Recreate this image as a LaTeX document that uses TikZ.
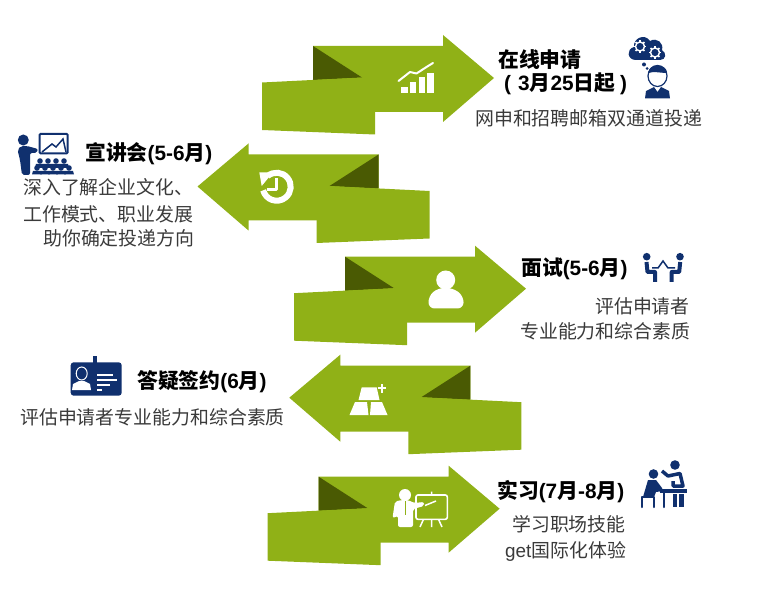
\documentclass[tikz,border=0pt]{standalone}
\usepackage{fontspec}
\setmainfont{Noto Sans CJK SC}
\newfontfamily\arialfont{Liberation Sans}
\usepackage{tikz}
\usetikzlibrary{calc}
\definecolor{ribbongreen}{HTML}{90B117}
\definecolor{ribbondark}{HTML}{4A5A03}
\definecolor{iconnavy}{HTML}{10306E}
\definecolor{bodygray}{HTML}{3A3A3A}
\tikzset{
	titletext/.style={anchor=west,inner sep=0pt,text=black,font=\fontsize{20.8}{24}\selectfont\bfseries},
	bodytext/.style={anchor=west,inner sep=0pt,text=bodygray,font=\fontsize{18.9}{24}\selectfont},
	navyline/.style={draw=iconnavy,line width=2pt,line cap=round,line join=round},
	whiteline/.style={draw=white,line width=2pt,line cap=round,line join=round}
}

\begin{document}
\begin{tikzpicture}[x=1pt,y=-1pt]

\useasboundingbox (0,0) rectangle (768,593);

\foreach \dx/\sx/\dy in {0/1/0,691.5/-1/108.5,32/1/210.7,783.3/-1/319.7,5.6/1/430.7}  {
	\begin{scope}[shift={(\dx,\dy)},xscale=\sx]
	\fill[ribbongreen] (313,46) -- (443,46) -- (443,35) -- (494,78) -- (443,122) -- (443,112) -- (360,112) -- (313,80) -- cycle;
	\fill[ribbondark] (313,46) -- (362,77.5) -- (313,80) -- cycle;
	\fill[ribbongreen] (262,82.5) -- (362,77.5) -- (375,100) -- (375,134.5) -- (262,130) -- cycle;
	\end{scope}
}

\fill[white] (401,87) rectangle (408,93);
\fill[white] (409.5,82) rectangle (416,93);
\fill[white] (418.5,77) rectangle (425,93);
\fill[white] (427,73) rectangle (433.5,93);
\draw[whiteline] (398.5,81) -- (410,72) -- (416.5,73.5) -- (426.5,67) -- (433,63);

\draw[white,line width=6pt] (267.7,176) arc (-130:165:14);
\fill[white] (259.3,172.3) -- (273,172.3) -- (261.7,186) -- cycle;
\draw[white,line width=3pt,line join=round] (276,178) -- (276,190) -- (267,190);

\fill[white] (445.7,280) circle (9.5);
\fill[white,rounded corners=6pt] (428.5,308.5) -- (428.5,296) -- (438,288) -- (453,288) -- (463.5,296) -- (463.5,308.5) -- cycle;

\fill[white] (361.7,387.3) -- (376.7,387.3) -- (379.5,400) -- (358.5,400) -- cycle;
\fill[white] (355,402) -- (367,402) -- (368.5,415) -- (349.5,415) -- cycle;
\fill[white] (371,402) -- (382,402) -- (387.5,415) -- (370,415) -- cycle;
\draw[white,line width=2pt] (377.5,388.3) -- (386,388.3) (381.7,384) -- (381.7,392.5);

\fill[white] (405,495) circle (6);
\fill[white,rounded corners=2pt] (392.5,518) -- (395,501.5) -- (402,500) -- (408,500) -- (414,503) -- (424,502) -- (424,506) -- (413,509) -- (413,527) -- (398,527) -- (398,516) -- cycle;
\draw[ribbongreen,line width=1.5pt] (405.5,501) -- (405.5,515);
\draw[white,line width=1.6pt,rounded corners=2pt] (416,495) rectangle (447.3,519.3);
\draw[white,line width=1.5pt] (431.7,491.5) -- (431.7,495) (423.5,519.3) -- (420,527) (431.7,519.3) -- (431.7,527) (438.5,519.3) -- (442,527) (425,505.5) -- (436,501);

\fill[iconnavy] (640,60) -- (636,60) .. controls (627,60) and (626,49) .. (634,47) .. controls (633,38) and (645,33) .. (650,41) .. controls (657,37) and (664,43) .. (662,50) .. controls (667,53) and (666,60) .. (660,60) -- cycle;
\foreach \gx/\gy/\gr in {640/46.5/4.5,655/52.5/4.5}  {
	\draw[white,line width=1.4pt] (\gx,\gy) circle (\gr);
	\foreach \ang in {0,45,...,315}  {
		\draw[white,line width=1.6pt] ($(\gx,\gy)+(\ang:\gr)$) -- ($(\gx,\gy)+(\ang:\gr+1.8)$);
	}
}
\fill[iconnavy] (644,64.5) circle (2);
\fill[iconnavy] (647,68.5) circle (1.5);
\draw[iconnavy,line width=1.2pt,fill=white] (657.5,76) ellipse (9.5 and 10.5);
\fill[iconnavy] (648.5,73) .. controls (648,63) and (667,63) .. (667,73) .. controls (660,73) and (654,71) .. (648.5,73) -- cycle;
\fill[iconnavy] (645,98.5) -- (646,91) -- (654,87) -- (657.5,92) -- (661,87) -- (669,91) -- (670,98.5) -- cycle;

\fill[iconnavy] (23.3,140) circle (5.5);
\fill[iconnavy,rounded corners=2pt] (17.5,150) -- (21,146) -- (27,146) -- (38,149) -- (37,153) -- (30,153) -- (30,175) -- (22,175) -- (20,160) -- cycle;
\draw[iconnavy,line width=2pt,rounded corners=1pt] (39.5,134) rectangle (67.7,153.3);
\draw[iconnavy,line width=1.5pt] (42,152) -- (52,144) -- (56,147) -- (63,139) -- (66,152);
\foreach \x in {40,48,56,64}  {
	\fill[iconnavy] (\x,161) circle (2.8);
	\fill[iconnavy] (\x-5,168) -- (\x-4,164) -- (\x+4,164) -- (\x+5,168) -- cycle;
}
\foreach \x in {37,45,53,61,69}  {
	\fill[iconnavy] (\x,168) circle (2.8);
	\fill[iconnavy] (\x-5,174.5) -- (\x-4,171) -- (\x+4,171) -- (\x+5,174.5) -- cycle;
}

\fill[iconnavy] (646.7,256.7) circle (3.8);
\fill[iconnavy] (680,256.7) circle (3.8);
\draw[iconnavy,line width=4pt,line join=round] (646.5,262) -- (647.5,272) -- (655,272) -- (655,282);
\draw[iconnavy,line width=4pt,line join=round] (680.2,262) -- (679.2,272) -- (671.7,272) -- (671.7,282);
\draw[iconnavy,line width=1.5pt] (652,268) -- (658,268) -- (663,261) -- (668,268) -- (675,268);

\fill[iconnavy,rounded corners=3pt] (70.7,362.3) rectangle (121.7,395.7);
\fill[iconnavy] (93,356) rectangle (97,364);
\draw[white,line width=1pt] (81.7,373.5) ellipse (5.5 and 6.5);
\fill[white] (72,390) -- (73,384) -- (79,381) -- (84,381) -- (90,384) -- (91,390) -- cycle;
\draw[white,line width=1.5pt] (97,375) -- (113,375) (97,380) -- (117,380) (97,385) -- (110,385) (97,390) -- (102,390);

\fill[iconnavy] (653.5,474) circle (4.8);
\fill[iconnavy] (643,497) -- (648,480) -- (656,480) -- (662,488) -- (663,491) -- (656,492) -- (654,497) -- cycle;
\draw[navyline,line width=2.5pt] (642,507) -- (642,497) -- (654,497) -- (654,507);
\fill[iconnavy] (660,489) rectangle (687,493);
\draw[navyline,line width=2.5pt] (664,492) -- (664,507);
\fill[iconnavy] (675,465) circle (4.8);
\draw[iconnavy,line width=3.5pt,line join=round] (662,471) -- (668,476) -- (680,473.5) -- (683,486) -- (673,486) -- (673,481);
\fill[iconnavy] (672.5,494) rectangle (677,507);
\fill[iconnavy] (679,494) rectangle (683.5,507);

\node[titletext] (applytitle) at (498,60) {在线申请};
\node[titletext] (applydate) at (504,84) {\arialfont (\hspace{7pt}3{\rmfamily 月}25{\rmfamily 日起}\hspace{5pt})};
\node[bodytext] (applytext) at (475,118) {网申和招聘邮箱双通道投递};

\node[titletext] (talktitle) at (85,154) {宣讲会{\arialfont (5-6}月{\arialfont )}};
\node[bodytext] (talktexta) at (23,187) {深入了解企业文化、};
\node[bodytext] (talktextb) at (23,214) {工作模式、职业发展};
\node[bodytext] (talktextc) at (43,238) {助你确定投递方向};

\node[titletext] (interviewtitle) at (521,269) {面试{\arialfont (5-6}月{\arialfont )}};
\node[bodytext] (interviewtexta) at (595,306) {评估申请者};
\node[bodytext] (interviewtextb) at (520,331) {专业能力和综合素质};

\node[titletext] (signtitle) at (137,382) {答疑签约{\arialfont (6}月{\arialfont )}};
\node[bodytext] (signtext) at (20,417) {评估申请者专业能力和综合素质};

\node[titletext] (interntitle) at (497,492) {实习{\arialfont (7}月{\arialfont -8}月{\arialfont )}};
\node[bodytext] (interntexta) at (512,524) {学习职场技能};
\node[bodytext] (interntextb) at (505,551) {{\arialfont get}国际化体验};

\end{tikzpicture}
\end{document}
